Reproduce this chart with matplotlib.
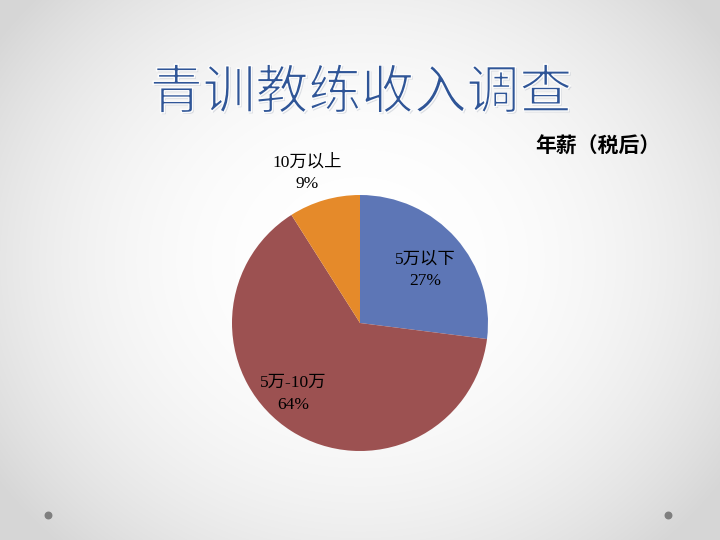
import numpy as np
import matplotlib
matplotlib.use("Agg")
import matplotlib.pyplot as plt
import matplotlib.patheffects as pe

title = "青训教练收入调查"
subtitle = "年薪（税后）"
categories = ["5万以下", "5万-10万", "10万以上"]
values = [27, 64, 9]
colors = ["#5D76B6", "#9C5151", "#E58A2A"]

fig = plt.figure(figsize=(7.2, 5.4), dpi=100)

# background radial gradient
bg = fig.add_axes([0, 0, 1, 1])
yy, xx = np.mgrid[0:540, 0:720]
d = np.sqrt(((xx - 360) / 430.0) ** 2 + ((yy - 260) / 380.0) ** 2)
g = np.clip(1.0 - 0.15 * d ** 2.4, 0.84, 1.0)
bg.imshow(np.dstack([g, g, g]), extent=[0, 720, 540, 0], aspect="auto", zorder=0)
bg.set_xlim(0, 720)
bg.set_ylim(540, 0)
bg.axis("off")
bg.scatter([48, 668], [515, 515], s=22, color="#7F7F7F", zorder=3)

cjk = ["Noto Sans CJK SC", "DejaVu Sans"]
serif = ["Liberation Serif", "Noto Sans CJK SC"]

bg.text(361, 93, title, fontsize=38, color="#2F5597", family=cjk, weight="normal",
        ha="center", va="center",
        path_effects=[pe.withSimplePatchShadow(offset=(1, -1), shadow_rgbFace="#A0A8B8", alpha=0.35),
                      pe.Normal(),
                      pe.Stroke(linewidth=1.1, foreground="#FCFCFC")])
bg.text(598, 148, subtitle, fontsize=15, color="black", family=serif, weight="bold",
        ha="center", va="center")

# pie axes: center (360,323), radius 128
cx, cy, r = 360, 323, 128
ax = fig.add_axes([(cx - r) / 720, 1 - (cy + r) / 540, 2 * r / 720, 2 * r / 540])
ax.pie(values, colors=colors, startangle=90, counterclock=False,
       wedgeprops=dict(linewidth=0.5, edgecolor="none"))
ax.set_aspect("auto")
ax.set_xlim(-1, 1)
ax.set_ylim(-1, 1)
ax.axis("off")

# overlay for labels
top = fig.add_axes([0, 0, 1, 1], facecolor="none")
top.set_xlim(0, 720)
top.set_ylim(540, 0)
top.axis("off")

label_pos = [(425, 270), (293, 394), (307, 173)]
for (x, y), c, v in zip(label_pos, categories, values):
    top.text(x, y, f"{c}\n{v}%", fontsize=12.5, family=serif, color="black",
             ha="center", va="center", linespacing=1.45)

fig.savefig("out.png", dpi=100)
